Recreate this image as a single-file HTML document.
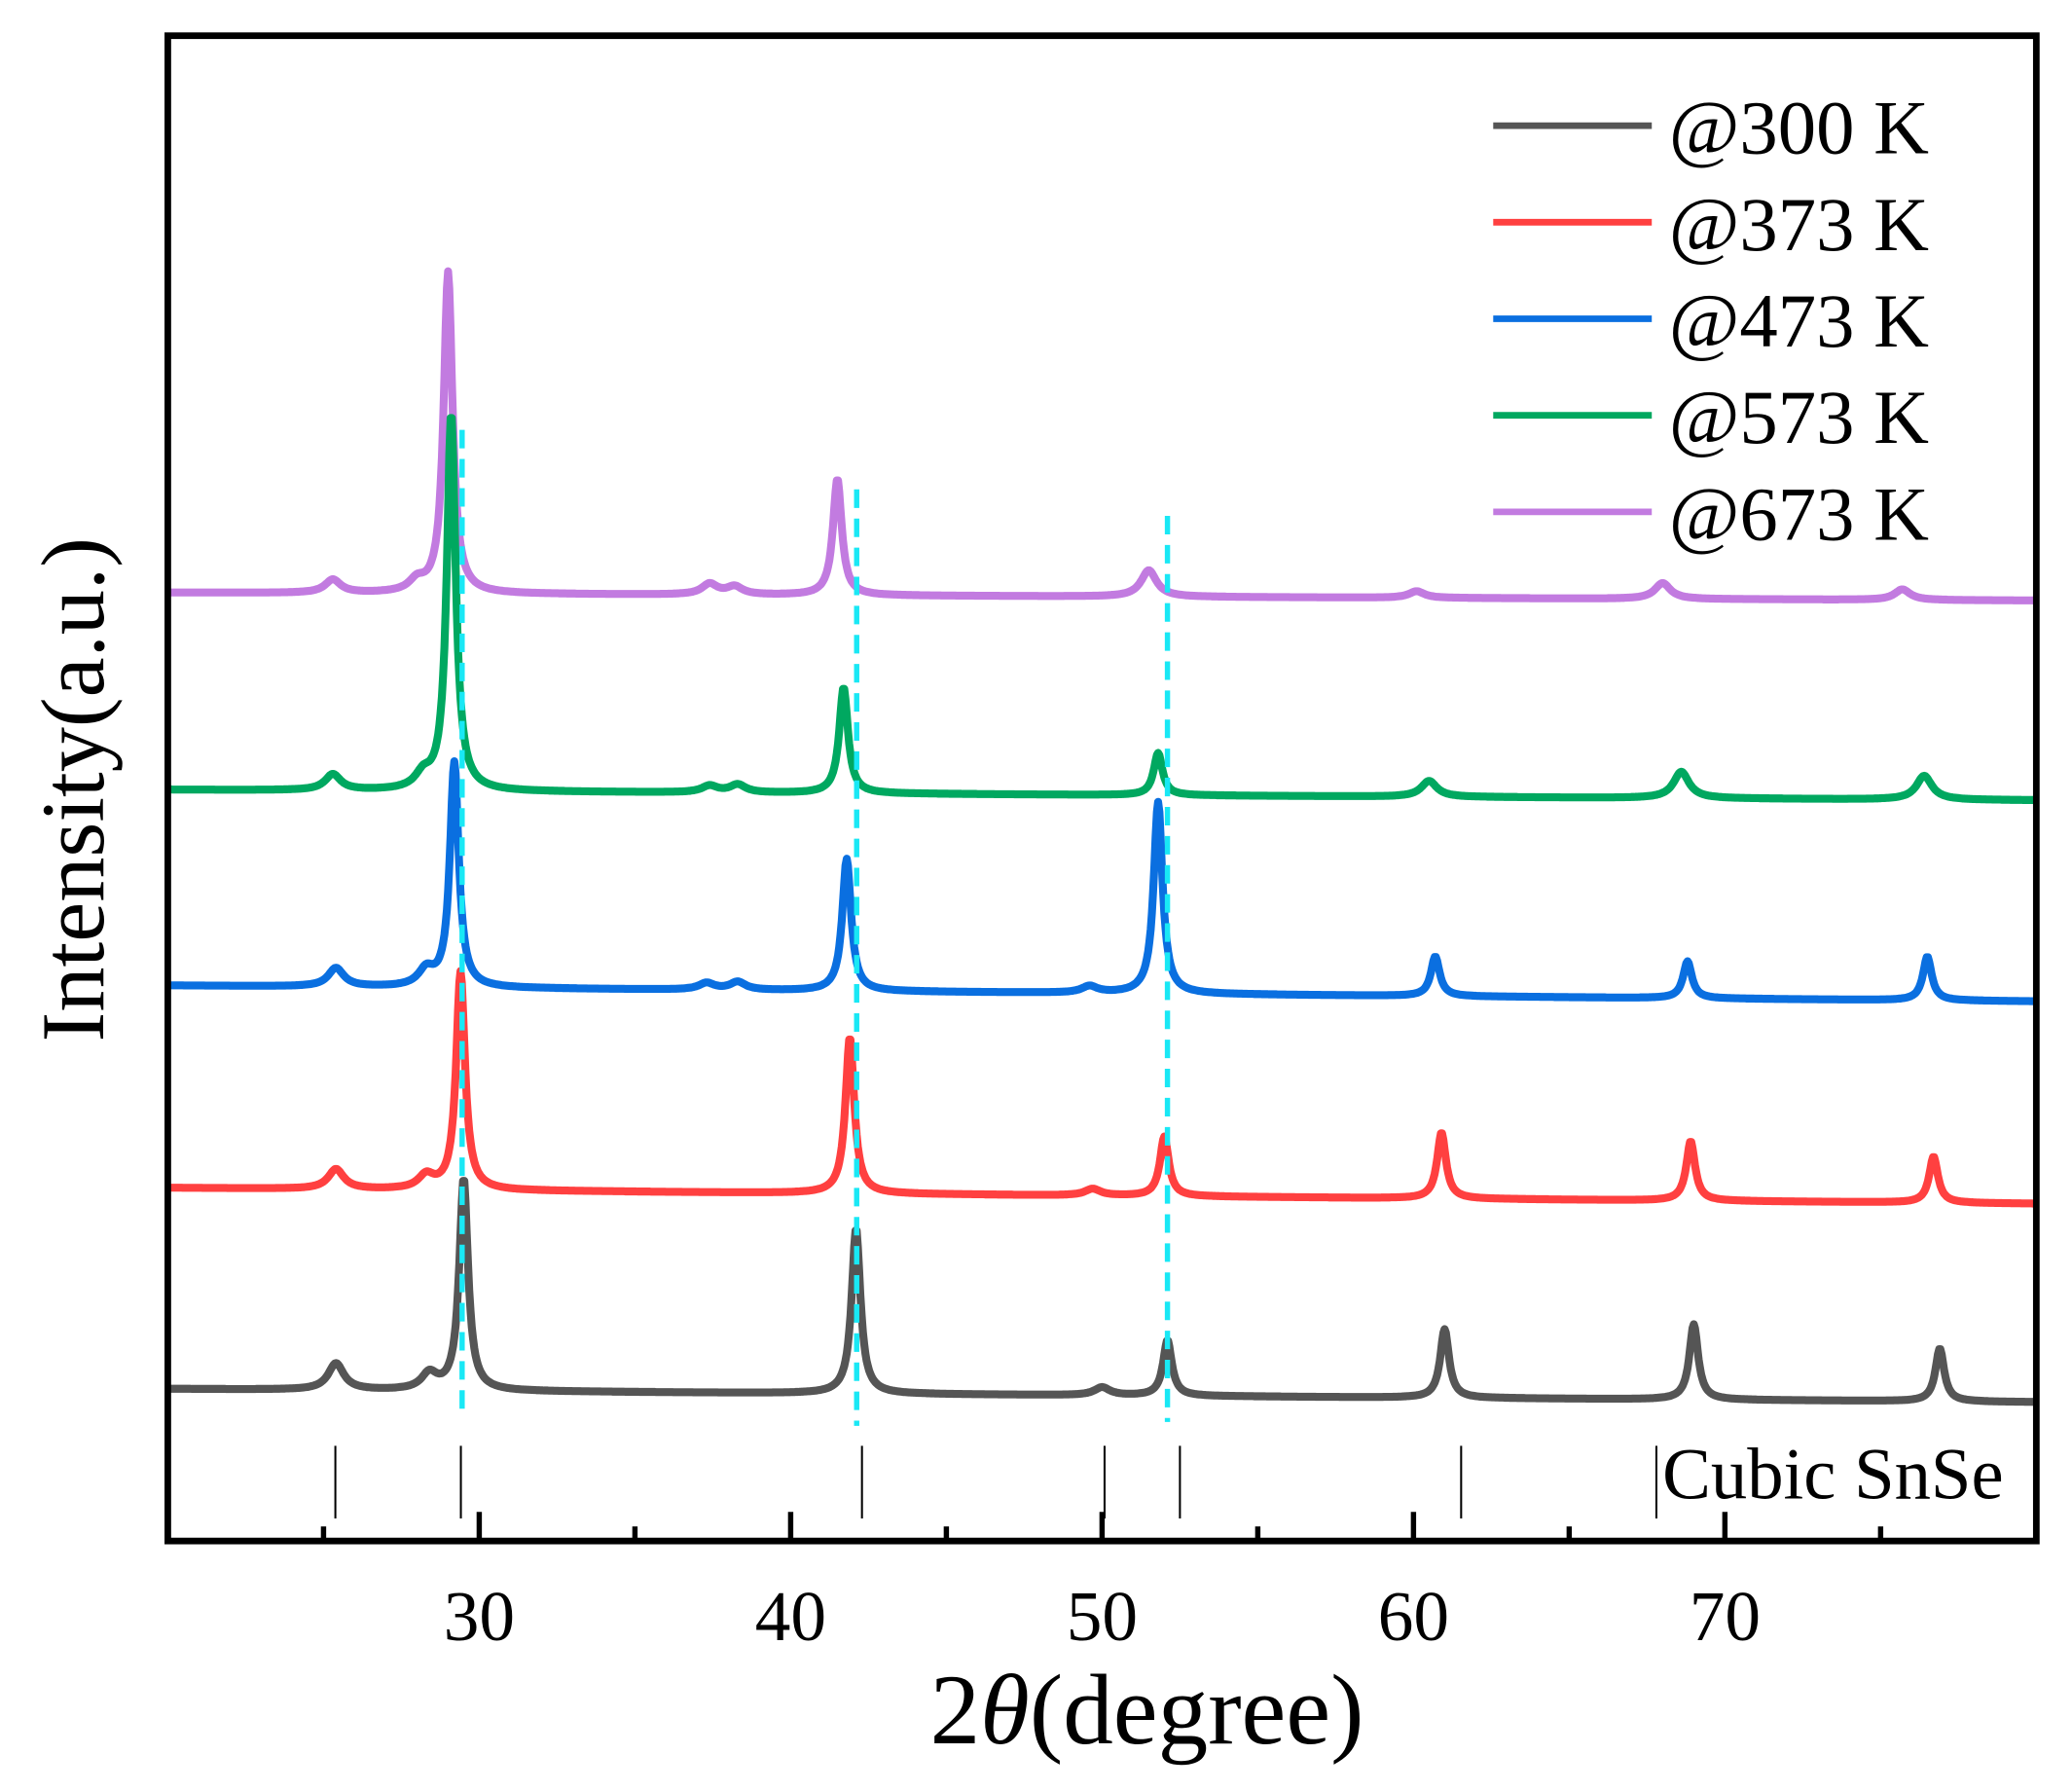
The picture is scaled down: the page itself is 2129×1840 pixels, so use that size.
<!DOCTYPE html>
<html><head><meta charset="utf-8"><style>
html,body{margin:0;padding:0;background:#fff;}
svg{display:block;}
text{font-family:"Liberation Serif",serif;fill:#000;}
</style></head><body>
<svg id="chart" width="2129" height="1840" viewBox="0 0 1568 1354" preserveAspectRatio="none" xmlns="http://www.w3.org/2000/svg">
<g id="series"></g>
<g id="refs"></g>
<g id="guides"></g>
<rect x="127" y="27" width="1414" height="1138" fill="none" stroke="#000" stroke-width="5"/>
<g id="ticks"></g>
<text x="868" y="1318" font-size="76" text-anchor="middle">2<tspan font-style="italic">θ</tspan>(degree)</text>
<text transform="translate(78,597) rotate(-90)" font-size="68" text-anchor="middle">Intensity(a.u.)</text>
<text x="1258" y="1133" font-size="55">Cubic SnSe</text>
<g id="legend"></g>
</svg>
<script>
const xMin = 20, xMax = 80;
const tickValues = [30, 40, 50, 60, 70];
const minorTicks = [25, 35, 45, 55, 65, 75];
const seriesNames = ["@300 K", "@373 K", "@473 K", "@573 K", "@673 K"];
const seriesColors = ["#555555", "#ff4040", "#0a6fe0", "#00a860", "#c27be0"];
// baseline intensity at 2θ=20 and 2θ=80 (arbitrary units)
const baseStart = [115, 267, 420, 568, 717];
const baseEnd = [105, 255, 408, 560, 711];
// peak positions (deg) and heights per series
const peaksPos300 = [25.4, 28.4, 29.5, 42.1, 50.0, 52.1, 61.0, 69.0, 76.9];
const peaksH300 = [20, 12, 160, 125, 6, 42, 52, 57, 40];
const peaksPos373 = [25.4, 28.3, 29.4, 41.9, 49.7, 52.0, 60.9, 68.9, 76.7];
const peaksH373 = [15, 10, 165, 118, 5, 45, 50, 45, 35];
const peaksPos473 = [25.4, 28.3, 29.2, 37.3, 38.3, 41.8, 49.6, 51.8, 60.7, 68.8, 76.5];
const peaksH473 = [14, 12, 170, 5, 6, 100, 5, 145, 30, 28, 33];
const peaksPos573 = [25.3, 28.2, 29.1, 37.4, 38.3, 41.7, 51.8, 60.5, 68.6, 76.4];
const peaksH573 = [12, 10, 285, 5, 6, 80, 32, 12, 20, 18];
const peaksPos673 = [25.3, 28.0, 29.0, 37.4, 38.2, 41.5, 51.5, 60.1, 68.0, 75.7];
const peaksH673 = [10, 8, 243, 8, 6, 88, 20, 5, 12, 8];
const refPositions = [25.38, 29.41, 42.29, 50.08, 52.5, 61.53, 67.8];
const guidePositions = [29.45, 42.12, 52.1];
const guideTops = [325, 370, 390];
const guideBottoms = [1068, 1078, 1075];

const peaksPos = [peaksPos300, peaksPos373, peaksPos473, peaksPos573, peaksPos673];
const peaksH = [peaksH300, peaksH373, peaksH473, peaksH573, peaksH673];
const NS = "http://www.w3.org/2000/svg";
const X0 = 127, X1 = 1541, Y0 = 1165;
function xs(v){ return X0 + (v - xMin) / (xMax - xMin) * (X1 - X0); }
function ys(v){ return Y0 - v; }
function mk(tag, attrs, parent){ const e = document.createElementNS(NS, tag); for (const k in attrs) e.setAttribute(k, attrs[k]); parent.appendChild(e); return e; }

const sg = document.getElementById("series");
for (let s = 4; s >= 0; s--) {
  let d = "";
  for (let x = xMin; x <= xMax + 1e-9; x += 0.04) {
    let v = baseStart[s] + (baseEnd[s] - baseStart[s]) * (x - xMin) / (xMax - xMin);
    const P = peaksPos[s], H = peaksH[s];
    for (let i = 0; i < P.length; i++) {
      const w = H[i] > 20 ? 0.17 : 0.3;
      const t = (x - P[i]) / w;
      v += H[i] / (1 + t * t);
    }
    d += (d ? "L" : "M") + xs(x).toFixed(1) + " " + ys(v).toFixed(1);
  }
  const p = mk("path", {d: d, fill: "none", stroke: seriesColors[s], "stroke-width": 6, "stroke-linejoin": "round"}, sg);
  
  
}

const rg = document.getElementById("refs");
refPositions.forEach(r => {
  const l = mk("line", {x1: xs(r), x2: xs(r), y1: 1093, y2: 1148, stroke: "#000", "stroke-width": 1.5}, rg);
  
  
});

const gg = document.getElementById("guides");
guidePositions.forEach((g, i) => {
  const l = mk("line", {x1: xs(g), x2: xs(g), y1: guideTops[i], y2: guideBottoms[i], stroke: "#19e8f5", "stroke-width": 4, "stroke-dasharray": "14 8"}, gg);
  
  
});

const tg = document.getElementById("ticks");
tickValues.forEach(t => {
  const l = mk("line", {x1: xs(t), x2: xs(t), y1: Y0, y2: Y0 - 22, stroke: "#000", "stroke-width": 4}, tg);
  
  
  const tx = mk("text", {x: xs(t), y: 1240, "font-size": 54, "text-anchor": "middle"}, tg);
  tx.textContent = String(t);
  
  
});
minorTicks.forEach(t => {
  const l = mk("line", {x1: xs(t), x2: xs(t), y1: Y0, y2: Y0 - 11, stroke: "#000", "stroke-width": 4}, tg);
  
  
});

const lg = document.getElementById("legend");
seriesNames.forEach((n, i) => {
  const y = 95 + i * 73;
  const l = mk("line", {x1: 1130, x2: 1250, y1: y, y2: y, stroke: seriesColors[i], "stroke-width": 5}, lg);
  
  
  const tx = mk("text", {x: 1263, y: y + 21, "font-size": 58}, lg);
  tx.textContent = n;
  
  
});
</script>
</body></html>
